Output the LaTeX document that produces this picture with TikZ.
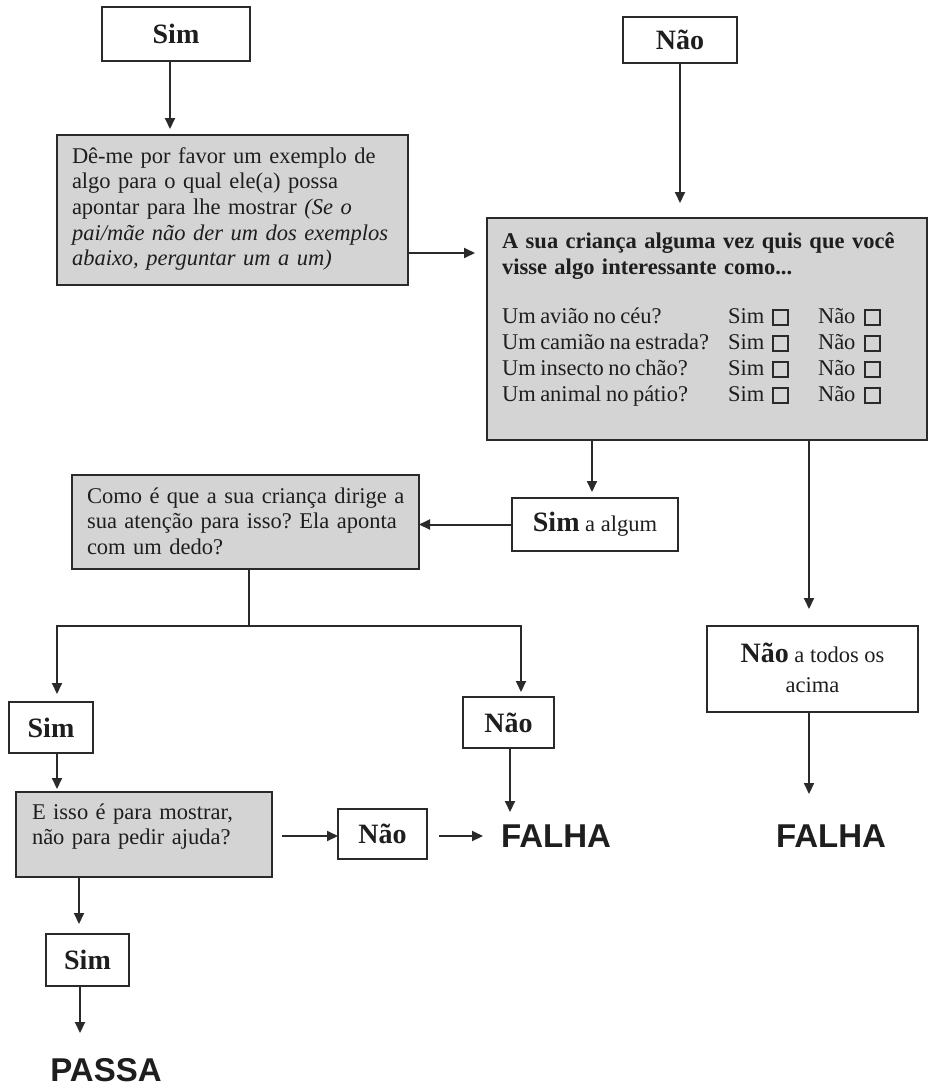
\documentclass[tikz,border=0pt]{standalone}
\usepackage{fontspec}
\setmainfont{Liberation Serif}
\newfontfamily\arialfont{Liberation Sans}
\usetikzlibrary{arrows.meta,calc}
\definecolor{boxgray}{HTML}{D4D4D4}
\definecolor{linec}{HTML}{2A2A2A}
\definecolor{textc}{HTML}{1E1E1E}
\newcommand{\tightsp}{\frenchspacing\spaceskip=0.8\fontdimen2\font plus 0.1\fontdimen3\font\relax}
\begin{document}
\begin{tikzpicture}[x=1pt,y=-1pt,
  box/.style={draw=linec, line width=2pt, anchor=north west, inner sep=0pt, outer sep=0pt},
  qbox/.style={box, fill=boxgray},
  lbl/.style={box, fill=white, text=textc, font=\fontsize{28}{30}\selectfont\bfseries},
  txt/.style={anchor=base west, inner sep=0pt, outer sep=0pt, align=left, text=textc, font=\fontsize{22.5}{25.7}\selectfont\tightsp},
  res/.style={inner sep=0pt, text=textc, font=\arialfont\bfseries\fontsize{33}{36}\selectfont},
  arr/.style={line width=2pt, draw=linec, -{Triangle[length=11pt,width=10pt]}},
  ln/.style={line width=2pt, draw=linec},
  chk/.style={line width=1.6pt, draw=linec}
]
\useasboundingbox[fill=white] (0,0) rectangle (929,1087);

% ---------- boxes ----------
\node[lbl, minimum width=148pt, minimum height=54pt] (simtop) at (102,7) {Sim};
\node[lbl, minimum width=114pt, minimum height=46pt] (naotop) at (623,17) {Não};
\node[qbox, minimum width=351pt, minimum height=150pt] (q1) at (57,135) {};
\node[qbox, minimum width=440pt, minimum height=222pt] (q2) at (487,218) {};
\node[qbox, minimum width=347pt, minimum height=94pt] (q3) at (72,475) {};
\node[box, fill=white, minimum width=166pt, minimum height=53pt] (simalg) at (512,498) {};
\node[box, fill=white, minimum width=211pt, minimum height=86pt] (naotodos) at (707,626) {};
\node[lbl, minimum width=84pt, minimum height=51pt] (simL) at (9,702) {Sim};
\node[lbl, minimum width=91pt, minimum height=51pt] (naoM) at (463,697) {Não};
\node[qbox, minimum width=256pt, minimum height=85pt] (q4) at (16,792) {};
\node[lbl, minimum width=89pt, minimum height=50pt] (naoQ) at (338,809) {Não};
\node[lbl, minimum width=83pt, minimum height=52pt] (simB) at (46,934) {Sim};

% ---------- texts ----------
\node[txt, text width=340pt] (q1t) at (72,163) {Dê-me por favor um exemplo de\\
algo para o qual ele(a) possa\\
apontar para lhe mostrar \textit{(Se o}\\
\textit{pai/mãe não der um dos exemplos}\\
\textit{abaixo, perguntar um a um)}};

\node[txt, text width=420pt, font=\fontsize{22.5}{26}\selectfont\bfseries\tightsp] (q2t) at (502,248)
  {A sua criança alguma vez quis que você\\ visse algo interessante como...};

\foreach \r/\q in {1/Um avião no céu?,2/Um camião na estrada?,3/Um insecto no chão?,4/Um animal no pátio?}{
  \pgfmathsetmacro{\b}{323+26*(\r-1)}
  \node[txt] (row\r) at (502,\b) {\q};
  \node[txt] (rs\r) at (728,\b) {Sim};
  \node[txt] (rn\r) at (818,\b) {Não};
  \draw[chk] (773,\b-13) rectangle (788,\b+2);
  \draw[chk] (865,\b-13) rectangle (880,\b+2);
}

\node[txt, text width=340pt] (q3t) at (87,503) {Como é que a sua criança dirige a\\
sua atenção para isso? Ela aponta\\
com um dedo?};

\node[inner sep=0pt, text=textc, font=\fontsize{22.5}{25.7}\selectfont] (simalgt) at (simalg.center)
  {{\fontsize{28}{30}\selectfont\bfseries Sim} a algum};

\node[inner sep=0pt, align=center, text=textc, font=\fontsize{22.5}{30}\selectfont] (naotodost) at ($(naotodos.center)+(0,-1)$)
  {{\fontsize{28}{30}\selectfont\bfseries Não} a todos os\\ acima};

\node[txt, text width=250pt] (q4t) at (32,819) {E isso é para mostrar,\\ não para pedir ajuda?};

\node[res] (falhaM) at (556,836) {FALHA};
\node[res] (falhaR) at (831,836) {FALHA};
\node[res] (passa) at (106,1070) {PASSA};

% ---------- connector coordinates ----------
\coordinate (t1) at (170,129);
\coordinate (t2) at (475,253);
\coordinate (t3) at (680,203);
\coordinate (t4) at (592,492);
\coordinate (t5) at (809,609);
\coordinate (s0) at (249,626);
\coordinate (t6) at (57,694);
\coordinate (t7) at (521,692);
\coordinate (t8) at (809,794);
\coordinate (t9) at (510,812);
\coordinate (t10) at (57,789);
\coordinate (a11) at (282,836);
\coordinate (a12) at (439,836);
\coordinate (t13) at (483,836);
\coordinate (t14) at (79,924);
\coordinate (t15) at (80,1033);

% ---------- connectors ----------
\draw[arr] (simtop.south -| t1) -- (t1);
\draw[arr] (q1.east |- t2) -- (t2);
\draw[arr] (naotop.south -| t3) -- (t3);
\draw[arr] (q2.south -| t4) -- (t4);
\draw[arr] (q2.south -| t5) -- (t5);
\draw[arr] (simalg.west) -- (q3.east |- simalg.west);
\draw[ln] (q3.south -| s0) -- (s0);
\draw[arr] (s0) -| (t6);
\draw[arr] (s0) -| (t7);
\draw[arr] (naotodos.south -| t8) -- (t8);
\draw[arr] (naoM.south -| t9) -- (t9);
\draw[arr] (simL.south -| t10) -- (t10);
\draw[arr] (a11) -- (naoQ.west |- a11);
\draw[arr] (a12) -- (t13);
\draw[arr] (q4.south -| t14) -- (t14);
\draw[arr] (simB.south -| t15) -- (t15);
\end{tikzpicture}
\end{document}
